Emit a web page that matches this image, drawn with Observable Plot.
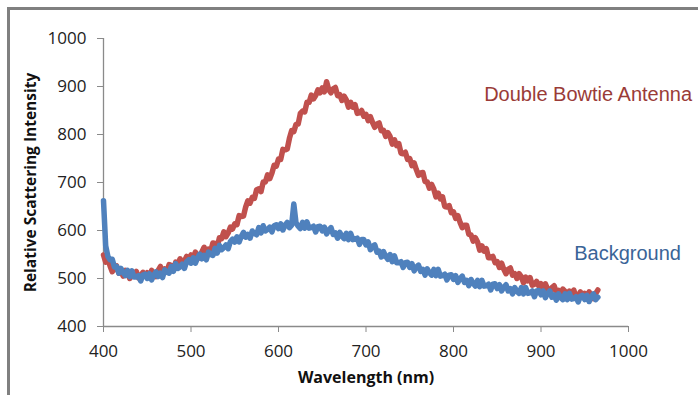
<!DOCTYPE html>
<html>
<head>
<meta charset="utf-8">
<script src="https://cdn.jsdelivr.net/npm/d3@7"></script>
<script src="https://cdn.jsdelivr.net/npm/@observablehq/plot@0.6"></script>
<style>
  html, body { margin: 0; padding: 0; background: #fff; }
  #wrap { position: relative; width: 698px; height: 395px; overflow: hidden; }
  #frame { position: absolute; left: 7px; top: 7px; width: 800px; height: 500px;
           border-left: 3px solid #808080; border-top: 3px solid #808080; box-sizing: border-box; }
  #chart { position: absolute; left: 0; top: 0; }
</style>
</head>
<body>
<div id="wrap"><div id="frame"></div><div id="chart"></div></div>
<script>
const wavelength = [
400,402.5,405,407.5, 410,412.5,415,417.5, 420,422.5,425,427.5, 430,432.5,435,437.5, 440,442.5,445,447.5,
450,452.5,455,457.5, 460,462.5,465,467.5, 470,472.5,475,477.5, 480,482.5,485,487.5, 490,492.5,495,497.5,
500,502.5,505,507.5, 510,512.5,515,517.5, 520,522.5,525,527.5, 530,532.5,535,537.5, 540,542.5,545,547.5,
550,552.5,555,557.5, 560,562.5,565,567.5, 570,572.5,575,577.5, 580,582.5,585,587.5, 590,592.5,595,597.5,
600,602.5,605,607.5, 610,612.5,615,617.5, 620,622.5,625,627.5, 630,632.5,635,637.5, 640,642.5,645,647.5,
650,652.5,655,657.5, 660,662.5,665,667.5, 670,672.5,675,677.5, 680,682.5,685,687.5, 690,692.5,695,697.5,
700,702.5,705,707.5, 710,712.5,715,717.5, 720,722.5,725,727.5, 730,732.5,735,737.5, 740,742.5,745,747.5,
750,752.5,755,757.5, 760,762.5,765,767.5, 770,772.5,775,777.5, 780,782.5,785,787.5, 790,792.5,795,797.5,
800,802.5,805,807.5, 810,812.5,815,817.5, 820,822.5,825,827.5, 830,832.5,835,837.5, 840,842.5,845,847.5,
850,852.5,855,857.5, 860,862.5,865,867.5, 870,872.5,875,877.5, 880,882.5,885,887.5, 890,892.5,895,897.5,
900,902.5,905,907.5, 910,912.5,915,917.5, 920,922.5,925,927.5, 930,932.5,935,937.5, 940,942.5,945,947.5,
950,952.5,955,957.5, 960,962.5,965];

const antenna = [
549,534,540,526, 514,523,526,511, 514,505,517,512, 500,513,507,515, 501,505,513,505,
512,504,517,509, 504,517,525,514, 520,514,529,527, 518,534,530,541, 529,536,546,540,
549,541,555,547, 543,556,565,554, 561,557,574,573, 566,585,583,597, 587,595,607,603,
614,612,631,629, 630,649,662,657, 669,667,685,687, 681,701,701,716, 708,720,736,734,
749,748,769,768, 770,792,808,806, 821,822,844,849, 847,867,867,882, 874,881,893,887,
897,889,910,893, 887,895,898,881, 883,871,880,872, 857,867,857,862, 844,845,850,838,
842,829,837,825, 815,822,824,808, 809,796,804,796, 780,789,777,781, 761,760,763,748,
750,735,741,727, 715,720,721,702, 701,688,696,686, 670,678,666,670, 650,649,652,637,
639,625,631,617, 606,611,611,592, 591,578,585,576, 559,568,557,562, 543,543,546,533,
535,523,532,519, 510,519,522,507, 510,500,510,504, 491,503,495,502, 486,488,494,484,
489,478,489,478, 471,481,485,471, 475,466,478,473, 461,474,467,476, 461,464,472,462,
469,460,472,464, 458,469,476];

const background = [
662,568,546,539, 540,524,525,511, 521,512,506,517, 504,516,503,503, 506,495,507,509,
500,510,497,507, 514,504,511,502, 518,513,511,525, 515,531,521,524, 530,521,535,539,
532,543,532,543, 551,541,548,539, 555,550,548,563, 553,569,560,564, 570,562,577,582,
576,587,576,588, 596,586,592,584, 599,594,591,606, 595,610,599,602, 607,597,610,612,
604,614,601,611, 617,606,611,655, 616,609,604,617, 605,618,605,606, 609,597,608,609,
599,607,593,601, 606,592,595,584, 596,588,583,594, 581,594,581,582, 584,571,581,581,
570,576,560,567, 570,555,557,545, 556,546,540,550, 535,547,533,533, 535,523,533,534,
523,531,516,524, 528,515,519,507, 520,512,507,519, 506,519,505,506, 509,497,507,508,
498,506,492,500, 505,492,496,485, 498,490,484,496, 483,496,484,485, 488,476,488,489,
479,487,474,482, 487,474,479,468, 481,473,469,481, 468,481,469,470, 474,462,474,475,
466,474,460,469, 474,461,466,455, 468,460,456,468, 456,469,457,458, 462,451,463,465,
456,465,452,462, 468,456,461];

const xTicks = [400,500,600,700,800,900,1000];
const yTicks = [400,500,600,700,800,900,1000];

const labelNames = ["Double Bowtie Antenna", "Background"];
const labelX = [835, 938];
const labelY = [883, 552];
const labelColors = ["#9a3b37", "#3a6497"];

const antData = wavelength.map((w, i) => ({w, v: antenna[i]}));
const bgData = wavelength.map((w, i) => ({w, v: background[i]}));
const labels = labelNames.map((t, i) => ({t, x: labelX[i], y: labelY[i], c: labelColors[i]}));

const fmt = d => String(d);

const chart = Plot.plot({
  width: 698,
  height: 395,
  marginLeft: 103,
  marginRight: 70,
  marginTop: 38,
  marginBottom: 69,
  style: { fontFamily: "'Open Sans', sans-serif", fontSize: "17px", color: "#222", background: "transparent", overflow: "visible" },
  x: { domain: [400, 1000], label: null },
  y: { domain: [400, 1000], label: null },
  marks: [
    Plot.ruleY([400], {stroke: "#8a8a8a", strokeWidth: 1.3}),
    Plot.ruleX([400], {stroke: "#8a8a8a", strokeWidth: 1.3}),
    Plot.axisX({ticks: xTicks, tickFormat: fmt, tickSize: 6, tickPadding: 12, stroke: "#8a8a8a", label: null, fill: "#222", fontSize: 17}),
    Plot.axisY({ticks: yTicks, tickFormat: fmt, tickSize: 6, tickPadding: 11, stroke: "#8a8a8a", label: null, fill: "#222", fontSize: 17}),
    Plot.line(antData, {x: "w", y: "v", stroke: "#c0504d", strokeWidth: 5.5, strokeLinejoin: "round"}),
    Plot.line(bgData, {x: "w", y: "v", stroke: "#4f81bd", strokeWidth: 5.5, strokeLinejoin: "round"}),
    Plot.text(labels, {x: "x", y: "y", text: "t", fill: "c", textAnchor: "start",
      fontFamily: "'Liberation Sans', Arial, sans-serif", fontSize: 20}),
    Plot.text(["Wavelength (nm)"], {frameAnchor: "bottom", dy: 56, fontWeight: "bold", fontSize: 16, fill: "#111"}),
    Plot.text(["Relative Scattering Intensity"], {frameAnchor: "left", textAnchor: "middle", dx: -72, rotate: -90, fontWeight: "bold", fontSize: 15.5, fill: "#111"})
  ]
});
document.getElementById("chart").appendChild(chart);
</script>
</body>
</html>
